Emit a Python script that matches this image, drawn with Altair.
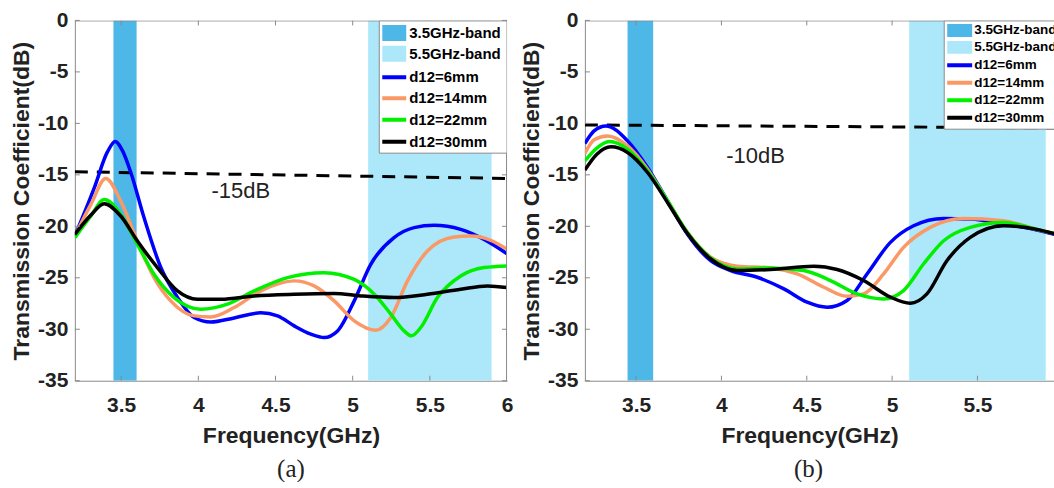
import altair as alt
import pandas as pd

FONT = "Liberation Sans"
SERIF = "Liberation Serif"
GRAY = "#8a8a8a"

SERIES = ["d12=6mm", "d12=14mm", "d12=22mm", "d12=30mm"]
BANDS = ["3.5GHz-band", "5.5GHz-band"]
COLORS = ["#4DB8E8", "#ADE8FA", "#0000FF", "#FA9866", "#00F000", "#000000"]
band_lo = [3.45, 5.1]
band_hi = [3.6, 5.9]

x_ticks_a = [3.5, 4, 4.5, 5, 5.5, 6]
x_ticks_b = [3.5, 4, 4.5, 5, 5.5]
y_ticks = [-35, -30, -25, -20, -15, -10, -5, 0]

# ---------------- panel (a) ----------------
a6_f = [3.2, 3.325, 3.41, 3.461, 3.51, 3.563, 3.649, 3.757, 3.865, 3.973, 4.08, 4.232, 4.405, 4.513,
        4.621, 4.729, 4.815, 4.902, 5.01, 5.117, 5.268, 5.398, 5.527, 5.70, 5.851, 6.0]
a6_v = [-20.94, -16.3, -12.8, -11.75, -12.7, -14.8, -19.2, -24.0, -26.9, -28.86, -29.3, -28.9, -28.4, -28.7,
        -29.67, -30.47, -30.8, -30.16, -27.24, -23.69, -21.1, -20.13, -19.9, -20.3, -21.27, -22.66]
a14_f = [3.2, 3.304, 3.40, 3.497, 3.605, 3.713, 3.821, 3.973, 4.08, 4.232, 4.405, 4.621, 4.75, 4.88,
         5.01, 5.15, 5.247, 5.355, 5.484, 5.657, 5.765, 5.895, 6.0]
a14_v = [-20.94, -17.87, -15.35, -17.55, -21.43, -24.98, -27.24, -28.7, -28.8, -27.89, -26.27, -25.3, -25.79, -27.24,
         -29.18, -30.09, -28.86, -25.3, -22.4, -21.04, -20.94, -21.36, -22.23]
a22_f = [3.2, 3.304, 3.39, 3.497, 3.605, 3.713, 3.843, 4.016, 4.189, 4.362, 4.578, 4.815, 5.01, 5.14,
         5.247, 5.333, 5.381, 5.441, 5.549, 5.70, 5.851, 6.0]
a22_v = [-21.1, -19.0, -17.39, -18.84, -21.75, -24.66, -26.92, -28.05, -27.56, -26.27, -24.98, -24.5, -25.16, -26.6,
         -28.53, -30.16, -30.64, -29.83, -26.92, -24.82, -24.01, -23.85]
a30_f = [3.2, 3.304, 3.39, 3.497, 3.605, 3.735, 3.865, 3.994, 4.145, 4.362, 4.621, 4.88, 5.053, 5.268,
         5.484, 5.70, 5.873, 6.0]
a30_v = [-20.78, -18.9, -17.81, -19.0, -21.43, -24.01, -26.27, -27.08, -27.08, -26.76, -26.6, -26.53, -26.76, -26.92,
         -26.6, -26.11, -25.79, -25.95]
a_dash_f = [3.2, 6.0]
a_dash_v = [-14.7, -15.35]
a_note = "-15dB"
a_note_f = [4.275]
a_note_v = [-16.6]

# ---------------- panel (b) ----------------
b6_f = [3.2, 3.254, 3.323, 3.45, 3.567, 3.684, 3.8, 3.937, 4.054, 4.21, 4.366, 4.502, 4.619, 4.736,
        4.853, 4.99, 5.126, 5.302, 5.458, 5.653, 5.848, 6.0]
b6_v = [-11.96, -10.73, -10.25, -11.7, -14.28, -17.52, -20.75, -23.34, -24.3, -24.95, -26.08, -27.37, -27.86, -27.2,
        -24.63, -21.56, -19.94, -19.23, -19.3, -19.78, -20.36, -21.0]
b14_f = [3.2, 3.254, 3.333, 3.45, 3.567, 3.684, 3.8, 3.937, 4.093, 4.288, 4.444, 4.6, 4.736, 4.833,
         4.95, 5.067, 5.223, 5.419, 5.653, 5.848, 6.0]
b14_v = [-12.93, -11.6, -11.22, -12.19, -14.45, -17.52, -20.59, -23.01, -23.88, -24.04, -24.63, -25.92, -26.79, -26.56,
         -24.63, -22.04, -20.1, -19.23, -19.46, -20.3, -20.9]
b22_f = [3.2, 3.27, 3.343, 3.45, 3.567, 3.684, 3.8, 3.937, 4.093, 4.288, 4.483, 4.639, 4.795, 4.95,
         5.067, 5.184, 5.302, 5.458, 5.653, 5.848, 6.0]
b22_v = [-13.64, -12.4, -11.76, -12.5, -14.6, -17.52, -20.59, -23.07, -24.14, -24.04, -24.3, -25.27, -26.56, -27.05,
         -26.24, -23.66, -21.4, -20.1, -19.62, -20.3, -20.9]
b30_f = [3.2, 3.27, 3.353, 3.45, 3.567, 3.684, 3.8, 3.937, 4.093, 4.288, 4.541, 4.678, 4.833, 4.99,
         5.107, 5.204, 5.321, 5.458, 5.653, 5.848, 6.0]
b30_v = [-14.54, -13.0, -12.28, -12.83, -14.77, -17.68, -20.68, -23.17, -24.3, -24.2, -23.88, -24.2, -25.27, -26.88,
         -27.47, -26.56, -23.34, -21.07, -19.94, -20.3, -20.95]
b_dash_f = [3.2, 6.0]
b_dash_v = [-10.15, -10.45]
b_note = "-10dB"
b_note_f = [4.2]
b_note_v = [-13.2]


def one():
    return pd.DataFrame({"k": [0]})


def build_panel(curves, dash_f, dash_v, note, note_f, note_v, xmax, W, H, xticks,
                leg, title, title_dx, xtitle_x, right_frame):
    x_scale = alt.Scale(domain=[3.2, xmax], nice=False, zero=False)
    y_scale = alt.Scale(domain=[-35, 0], nice=False, zero=False)
    color_scale = alt.Scale(domain=BANDS + SERIES, range=COLORS)

    xaxis_kw = dict(values=xticks, title="Frequency(GHz)", labelExpr="'' + datum.value",
                    labelFlush=False, labelOverlap=False, ticks=False, grid=False,
                    domainColor=GRAY, domainWidth=1, labelFont=FONT, labelFontSize=21,
                    labelFontWeight="bold", labelColor="#222222", labelPadding=14,
                    titleFont=FONT, titleFontSize=23, titleFontWeight="bold", titleColor="#222222",
                    titlePadding=9)
    if xtitle_x is not None:
        xaxis_kw["titleX"] = xtitle_x
        xaxis_kw["titleAlign"] = "center"
    xaxis = alt.Axis(**xaxis_kw)
    yaxis = alt.Axis(values=y_ticks, title="Transmission Coefficient(dB)", labelExpr="'' + datum.value",
                     labelOverlap=False, ticks=False, grid=False, domainColor=GRAY, domainWidth=1,
                     labelFont=FONT, labelFontSize=21, labelFontWeight="bold", labelColor="#222222",
                     labelPadding=7, titleFont=FONT, titleFontSize=23, titleFontWeight="bold",
                     titleColor="#222222", titlePadding=4)

    def X(field):
        return alt.X(field, type="quantitative", scale=x_scale, axis=xaxis)

    def Y(field):
        return alt.Y(field, type="quantitative", scale=y_scale, axis=yaxis)

    rows = []
    for name, (fs, vs) in zip(SERIES, curves):
        for f, v in zip(fs, vs):
            rows.append({"f": f, "v": v, "s": name})
    df = pd.DataFrame(rows)
    bands = pd.DataFrame({"lo": band_lo, "hi": band_hi, "s": BANDS})

    layers = []
    layers.append(alt.Chart(bands).mark_rect(clip=True).encode(
        x=X("lo"), x2="hi", y=alt.value(0), y2=alt.value(H),
        color=alt.Color("s:N", scale=color_scale, legend=None)))
    layers.append(alt.Chart(pd.DataFrame({"f": dash_f, "v": dash_v})).mark_line(
        color="black", strokeWidth=3, strokeDash=[13, 9], clip=True).encode(x=X("f"), y=Y("v")))
    layers.append(alt.Chart(df).mark_line(strokeWidth=3.5, interpolate="monotone", clip=True).encode(
        x=X("f"), y=Y("v"),
        color=alt.Color("s:N", scale=color_scale, legend=None),
        order=alt.Order("o:Q")).transform_calculate(
        o="indexof(%s, datum.s)" % str(SERIES)))
    layers.append(alt.Chart(pd.DataFrame({"f": note_f, "v": note_v, "t": [note]})).mark_text(
        font=FONT, fontSize=22, color="#222222", align="center", baseline="middle").encode(
        x=X("f"), y=Y("v"), text="t:N"))

    # inward ticks and frame
    xt = pd.DataFrame({"t": xticks})
    yt = pd.DataFrame({"t": y_ticks})
    layers.append(alt.Chart(xt).mark_rule(color=GRAY, clip=True).encode(x=X("t"), y=alt.value(H), y2=alt.value(H - 5)))
    layers.append(alt.Chart(xt).mark_rule(color=GRAY, clip=True).encode(x=X("t"), y=alt.value(0), y2=alt.value(5)))
    layers.append(alt.Chart(yt).mark_rule(color=GRAY).encode(y=Y("t"), x=alt.value(0), x2=alt.value(5)))
    layers.append(alt.Chart(one()).mark_rule(color=GRAY, clip=True).encode(
        x=alt.value(0), x2=alt.value(W + 5), y=alt.value(0.5)))
    if right_frame:
        layers.append(alt.Chart(yt).mark_rule(color=GRAY).encode(y=Y("t"), x=alt.value(W - 5), x2=alt.value(W)))
        layers.append(alt.Chart(one()).mark_rule(color=GRAY).encode(
            x=alt.value(W - 0.5), y=alt.value(0), y2=alt.value(H)))

    # legend (drawn in the plot area)
    bx0, bx1, by1, px0, px1, tx, rows_y, half, fs = leg
    layers.append(alt.Chart(one()).mark_rect(fill="white", stroke=GRAY, strokeWidth=1, clip=True).encode(
        x=alt.value(bx0), x2=alt.value(bx1), y=alt.value(0.5), y2=alt.value(by1)))
    for i, name in enumerate(BANDS + SERIES):
        yy = rows_y[i]
        col = COLORS[i]
        if i < 2:
            layers.append(alt.Chart(one()).mark_rect(color=col, clip=True).encode(
                x=alt.value(px0), x2=alt.value(px1), y=alt.value(yy - half), y2=alt.value(yy + half)))
        else:
            layers.append(alt.Chart(one()).mark_rule(color=col, strokeWidth=4, clip=True).encode(
                x=alt.value(px0), x2=alt.value(px1), y=alt.value(yy)))
        layers.append(alt.Chart(one()).mark_text(
            text=name, align="left", baseline="middle", font=FONT, fontWeight="bold",
            fontSize=fs, color="black", clip=True).encode(x=alt.value(tx), y=alt.value(yy)))

    return alt.layer(*layers).properties(
        width=W, height=H,
        title=alt.TitleParams(text=title, orient="bottom", font=SERIF, fontSize=25,
                              fontWeight="normal", color="#222222", offset=9, anchor="middle",
                              dx=title_dx))


Wa, Ha = 433, 361
Wb, Hb = 470, 361

panel_a = build_panel(
    [(a6_f, a6_v), (a14_f, a14_v), (a22_f, a22_v), (a30_f, a30_v)],
    a_dash_f, a_dash_v, a_note, a_note_f, a_note_v, 6.0, Wa, Ha, x_ticks_a,
    (305, Wa, 133, 308, 332, 335, [12.5, 33.5, 57, 78, 99.5, 121.5], 8, 15),
    "(a)", 0, None, True)

panel_b = build_panel(
    [(b6_f, b6_v), (b14_f, b14_v), (b22_f, b22_v), (b30_f, b30_v)],
    b_dash_f, b_dash_v, b_note, b_note_f, b_note_v, 3.2 + Wb / 171.0, Wb, Hb, x_ticks_b,
    (360, Wb + 10, 109, 363, 388, 390, [10, 27, 45, 62.5, 80, 97.5], 6.5, 13.5),
    "(b)", -11, 225, False)

chart = alt.hconcat(panel_a, panel_b, spacing=7).configure(
    padding={"left": 10, "top": 9, "right": 0, "bottom": 0}
).configure_view(stroke=None)

chart.save("out.html", embed_options={"renderer": "svg", "actions": False})
